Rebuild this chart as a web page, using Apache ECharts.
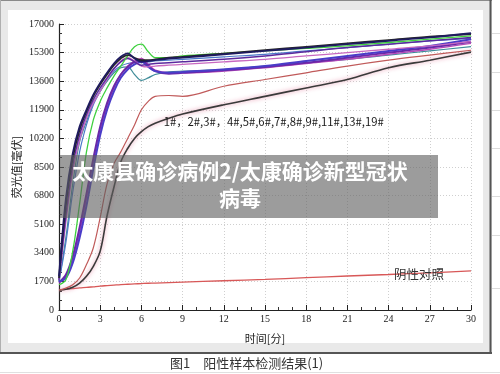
<!DOCTYPE html>
<html>
<head>
<meta charset="utf-8">
<script src="https://cdn.jsdelivr.net/npm/echarts@6/dist/echarts.min.js"></script>
<style>
html, body { margin: 0; padding: 0; background: #fff; }
#main { width: 500px; height: 374px; }
</style>
</head>
<body>
<div id="main"></div>
<script>
// 时间轴 (分) 与 刻度
var xTicks = [0, 3, 6, 9, 12, 15, 18, 21, 24, 27, 30];
var yTicks = [0, 1700, 3400, 5100, 6800, 8500, 10200, 11900, 13600, 15300, 17000];
var timeMin = [0, 0.5, 1, 1.5, 2, 2.5, 3, 3.5, 4, 4.5, 5, 5.5, 6, 6.5, 7, 8, 9, 12, 15, 18, 21, 24, 27, 30];

// 阳性样本荧光值 (毫伏)
var sNavy    = [2000, 6600, 9300, 10900, 11900, 12800, 13500, 14100, 14650, 15050, 15250, 14950, 14750, 14800, 14850, 14950, 15000, 15200, 15400, 15600, 15800, 16000, 16200, 16450];
var sBlack   = [1900, 6200, 9000, 10700, 11800, 12700, 13400, 14000, 14550, 14950, 15150, 15000, 14850, 14850, 14900, 15000, 15050, 15250, 15450, 15650, 15850, 16050, 16250, 16400];
var sPurple  = [1800, 5600, 8600, 10400, 11600, 12500, 13200, 13800, 14350, 14750, 14950, 14750, 14550, 14600, 14650, 14700, 14750, 14900, 15100, 15350, 15600, 15800, 16000, 16200];
var sPink    = [1800, 5200, 8200, 10100, 11400, 12300, 13000, 13700, 14300, 14800, 15000, 14800, 14500, 14450, 14500, 14550, 14600, 14750, 14900, 15100, 15300, 15500, 15700, 15950];
var sTeal    = [1700, 4300, 7500, 10000, 11200, 12300, 13000, 13600, 14100, 14400, 14450, 14000, 13650, 13800, 14000, 14150, 14200, 14300, 14500, 14700, 14900, 15150, 15400, 15650];
var sSteel   = [1700, 4000, 7000, 9400, 11000, 12200, 13000, 13700, 14200, 14500, 14650, 14700, 14700, 14750, 14800, 14850, 14900, 15050, 15200, 15400, 15600, 15800, 16000, 16150];
var sGreen   = [1500, 1800, 3500, 6300, 9400, 11300, 12400, 13200, 13900, 14500, 15100, 15650, 15800, 15350, 15000, 15000, 15100, 15250, 15400, 15550, 15700, 15900, 16100, 16300];
var sIndigo  = [1700, 1900, 2800, 4300, 6200, 8400, 10400, 11900, 13000, 13800, 14300, 14600, 14750, 14450, 14200, 14100, 14150, 14300, 14500, 14800, 15100, 15400, 15700, 16100];
var sViolet  = [1650, 2100, 3200, 4900, 6900, 9000, 10900, 12300, 13300, 14000, 14450, 14750, 14850, 14500, 14200, 14050, 14100, 14250, 14450, 14700, 15000, 15300, 15600, 15950];
var sMagenta = [1600, 2000, 3000, 4600, 6600, 8800, 10700, 12100, 13200, 14000, 14500, 14800, 14950, 14600, 14250, 14100, 14100, 14200, 14400, 14650, 14900, 15200, 15500, 15850];
var sRed     = [1190, 1300, 1500, 1900, 2700, 3700, 5500, 7500, 8700, 9400, 10200, 11000, 11900, 12400, 12700, 12750, 12700, 13300, 13700, 14100, 14500, 14850, 15150, 15440];
var sSlow    = [1190, 1230, 1350, 1600, 2000, 2600, 3500, 5600, 7300, 8800, 9600, 10200, 10600, 10900, 11100, 11400, 11650, 12200, 12700, 13200, 13700, 14400, 14850, 15330];
// 阴性对照
var sNeg     = [1190, 1230, 1270, 1310, 1340, 1380, 1420, 1450, 1480, 1510, 1530, 1550, 1570, 1590, 1600, 1630, 1660, 1740, 1820, 1920, 2020, 2110, 2210, 2320];

var sampleLabel = '1#，2#,3#，4#,5#,6#,7#,8#,9#,11#,13#,19#';
var negLabel = '阴性对照';

function pairs(vals) {
    var out = [];
    for (var i = 0; i < vals.length; i++) {
        out.push([timeMin[i], vals[i]]);
    }
    return out;
}

function curve(vals, color, width, extra) {
    var s = {
        type: 'line',
        smooth: 0.35,
        symbol: 'none',
        data: pairs(vals),
        lineStyle: { color: color, width: width },
        silent: true
    };
    if (extra) {
        for (var k in extra) s[k] = extra[k];
    }
    return s;
}

var series = [
    curve(sNeg, '#d85858', 1.3, {
        markPoint: {
            symbol: 'circle',
            symbolSize: 0,
            silent: true,
            label: { show: true, position: 'inside', align: 'left', verticalAlign: 'middle', color: '#333', fontSize: 12.5, fontFamily: 'Noto Sans CJK SC' },
            data: [{ coord: [24.4, 2120], value: negLabel, label: { formatter: negLabel } },
                   { coord: [7.62, 11170], value: 0, label: { formatter: sampleLabel, fontSize: 11.3, color: '#1a1a1a' } }]
        }
    }),
    curve(sSlow, '#3a3a3a', 1.6, { lineStyle: { color: '#3a3a3a', width: 1.6, shadowColor: 'rgba(230,130,160,0.9)', shadowBlur: 4 } }),
    curve(sRed, '#c05a5a', 1.2),
    curve(sTeal, '#3f8c99', 1.2),
    curve(sSteel, '#4a78c8', 1.2),
    curve(sMagenta, '#b848b8', 1.4),
    curve(sViolet, '#6a28a8', 2),
    curve(sIndigo, '#4a3cc8', 2),
    curve(sPink, '#c868c0', 1.3),
    curve(sPurple, '#5b2a9e', 1.5),
    curve(sGreen, '#3fd03f', 1.3),
    curve(sBlack, '#262626', 1.6),
    curve(sNavy, '#1e1a60', 1.8)
];

var option = {
    backgroundColor: '#ffffff',
    animation: false,
    grid: { left: 59, right: 29, top: 24, bottom: 64 },
    xAxis: {
        type: 'value',
        min: xTicks[0],
        max: xTicks[xTicks.length - 1],
        interval: 3,
        name: '时间[分]',
        nameLocation: 'middle',
        nameGap: 23,
        nameTextStyle: { color: '#222', fontSize: 11, fontFamily: 'Noto Sans CJK SC' },
        axisLine: { lineStyle: { color: '#222', width: 1.2 } },
        axisTick: { inside: true, length: 5, lineStyle: { color: '#222' } },
        minorTick: { show: true, splitNumber: 3, length: 3, lineStyle: { color: '#333' } },
        axisLabel: { color: '#222', fontSize: 10, margin: 4, fontFamily: 'Liberation Serif' },
        splitLine: { show: true, lineStyle: { color: '#cfcfcf', type: [1, 2] } }
    },
    yAxis: {
        type: 'value',
        min: yTicks[0],
        max: yTicks[yTicks.length - 1],
        interval: 1700,
        name: '荧光值[毫伏]',
        nameLocation: 'middle',
        nameGap: 37,
        nameMoveOverlap: false,
        nameTextStyle: { color: '#222', fontSize: 11, fontFamily: 'Noto Sans CJK SC' },
        axisLine: { show: true, lineStyle: { color: '#222', width: 1.2 } },
        axisTick: { show: true, inside: true, length: 5, lineStyle: { color: '#222' } },
        minorTick: { show: true, splitNumber: 3, length: 3, lineStyle: { color: '#333' } },
        axisLabel: {
            color: '#222', fontSize: 10, margin: 5, fontFamily: 'Liberation Serif',
            formatter: function (v) { return String(v); }
        },
        splitLine: { show: true, lineStyle: { color: '#cfcfcf', type: [1, 2] } }
    },
    graphic: [
        // 窗口外框
        { type: 'rect', z: -20, shape: { x: 0, y: 0, width: 492, height: 354 }, style: { fill: '#e9e9e9' } },
        { type: 'rect', z: -19, shape: { x: 8, y: 10, width: 475, height: 333 }, style: { fill: '#ffffff' } },
        { type: 'line', z: -18, shape: { x1: 0, y1: 0.5, x2: 492, y2: 0.5 }, style: { stroke: '#8a8a8a', lineWidth: 1 } },
        { type: 'line', z: -18, shape: { x1: 0.5, y1: 0, x2: 0.5, y2: 354 }, style: { stroke: '#b0b0b0', lineWidth: 1 } },
        { type: 'line', z: -18, shape: { x1: 490.5, y1: 0, x2: 490.5, y2: 354 }, style: { stroke: '#555', lineWidth: 2 } },
        { type: 'line', z: -18, shape: { x1: 0, y1: 353, x2: 492, y2: 353 }, style: { stroke: '#555', lineWidth: 2 } },
        // 表格细线
        { type: 'line', z: -18, shape: { x1: 492, y1: 33.5, x2: 500, y2: 33.5 }, style: { stroke: '#dcdcdc' } },
        { type: 'line', z: -18, shape: { x1: 492, y1: 72.5, x2: 500, y2: 72.5 }, style: { stroke: '#dcdcdc' } },
        { type: 'line', z: -18, shape: { x1: 492, y1: 110.5, x2: 500, y2: 110.5 }, style: { stroke: '#dcdcdc' } },
        { type: 'line', z: -18, shape: { x1: 492, y1: 148.5, x2: 500, y2: 148.5 }, style: { stroke: '#dcdcdc' } },
        { type: 'line', z: -18, shape: { x1: 492, y1: 196.5, x2: 500, y2: 196.5 }, style: { stroke: '#dcdcdc' } },
        { type: 'line', z: -18, shape: { x1: 492, y1: 235.5, x2: 500, y2: 235.5 }, style: { stroke: '#dcdcdc' } },
        { type: 'line', z: -18, shape: { x1: 492, y1: 288.5, x2: 500, y2: 288.5 }, style: { stroke: '#dcdcdc' } },
        { type: 'line', z: -18, shape: { x1: 0, y1: 372.5, x2: 500, y2: 372.5 }, style: { stroke: '#e0e0e0' } },
        // 图注
        { type: 'text', z: 10, left: 170, top: 357, style: { text: '图1　阳性样本检测结果(1)', fill: '#333', font: '13px "Noto Sans CJK SC"' } },
        // 水印遮罩
        { type: 'rect', z: 100, shape: { x: 60, y: 155, width: 378, height: 63 }, style: { fill: 'rgba(95,95,95,0.62)' } },
        { type: 'text', z: 101, x: 240, y: 158, style: { text: '太康县确诊病例2/太康确诊新型冠状\n病毒', fill: '#fff', align: 'center', lineHeight: 27, font: 'bold 21px "Noto Sans CJK SC"' } }
    ],
    series: series
};

var myChart = echarts.init(document.getElementById('main'));
myChart.setOption(option);
</script>
</body>
</html>
